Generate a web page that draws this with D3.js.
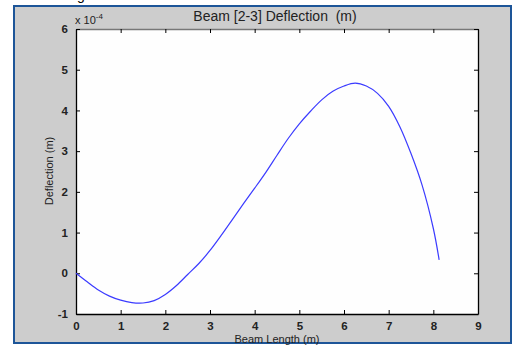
<!DOCTYPE html>
<html><head><meta charset="utf-8">
<script src="https://cdn.jsdelivr.net/npm/d3@7"></script>
<style>html,body{margin:0;padding:0;background:#fff;}svg{display:block;}</style>
</head><body>
<script>
const beamLength = [0, 0.25, 0.5, 0.75, 1.0, 1.25, 1.5, 1.75, 2.0, 2.25, 2.5, 2.75, 3.0, 3.25, 3.5, 3.75, 4.0, 4.25, 4.5, 4.75, 5.0, 5.25, 5.5, 5.75, 6.0, 6.25, 6.5, 6.75, 7.0, 7.25, 7.5, 7.75, 8.0, 8.13];
const deflection = [0, -0.21, -0.41, -0.56, -0.66, -0.72, -0.73, -0.67, -0.52, -0.3, -0.03, 0.24, 0.56, 0.93, 1.32, 1.71, 2.09, 2.48, 2.9, 3.31, 3.67, 3.98, 4.26, 4.47, 4.6, 4.67, 4.6, 4.42, 4.1, 3.6, 2.94, 2.16, 1.1, 0.33];
const xTicks = [0,1,2,3,4,5,6,7,8,9];
const yTicks = [-1,0,1,2,3,4,5,6];
const titleText = "Beam [2-3] Deflection  (m)";
const xLabel = "Beam Length (m)";
const yLabel = "Deflection (m)";

const W = 515, H = 345;
const svg = d3.select("body").append("svg").attr("width", W).attr("height", H);
svg.append("rect").attr("width", W).attr("height", H).attr("fill", "#fff");
// stray glyph from surrounding document (cut off at the top, as in the source)
svg.append("text").attr("x", 77).attr("y", 0).attr("font-family", "Arial, Liberation Sans").attr("font-size", 14).attr("fill", "#000").text("g");
// figure frame
svg.append("rect").attr("x", 14).attr("y", 6).attr("width", 497).attr("height", 337)
  .attr("fill", "#cdcdcd").attr("stroke", "#1d5598").attr("stroke-width", 2);

const m = {l: 76, t: 29, r: 478, b: 314};
const x = d3.scaleLinear().domain([0, 9]).range([m.l, m.r]);
const y = d3.scaleLinear().domain([-1, 6]).range([m.b, m.t]);

svg.append("rect").attr("x", m.l).attr("y", m.t).attr("width", m.r - m.l).attr("height", m.b - m.t).attr("fill", "#fefefe");

const font = "Arial, 'Liberation Sans', sans-serif";
const fmt = d => String(d);
const tl = 4;
const xb = svg.append("g").attr("transform", `translate(0,${m.b})`)
  .call(d3.axisBottom(x).tickValues(xTicks).tickFormat(fmt).tickSizeInner(-tl).tickSizeOuter(0).tickPadding(8));
const xt = svg.append("g").attr("transform", `translate(0,${m.t})`)
  .call(d3.axisTop(x).tickValues(xTicks).tickSizeInner(-tl).tickSizeOuter(0).tickFormat(""));
const yl = svg.append("g").attr("transform", `translate(${m.l},0)`)
  .call(d3.axisLeft(y).tickValues(yTicks).tickFormat(fmt).tickSizeInner(-tl).tickSizeOuter(0).tickPadding(8));
const yr = svg.append("g").attr("transform", `translate(${m.r},0)`)
  .call(d3.axisRight(y).tickValues(yTicks).tickSizeInner(-tl).tickSizeOuter(0).tickFormat(""));
[xb, xt, yl, yr].forEach(g => {
  g.selectAll("path.domain").attr("stroke", "#000").attr("stroke-width", 1.3);
  g.selectAll(".tick line").attr("stroke", "#000");
  g.selectAll("text").attr("font-family", font).attr("font-size", 11.5).attr("font-weight", "bold").attr("fill", "#222");
});
xt.select("path.domain").attr("stroke", "#777");

svg.append("path").datum(beamLength.map((v, i) => [v, deflection[i]]))
  .attr("fill", "none").attr("stroke", "#3b3bff").attr("stroke-width", 1.2)
  .attr("d", d3.line().x(d => x(d[0])).y(d => y(d[1])).curve(d3.curveCatmullRom.alpha(0.5)));

svg.append("text").attr("x", 275).attr("y", 21).attr("text-anchor", "middle").style("white-space", "pre")
  .attr("font-family", font).attr("font-size", 14).attr("fill", "#222").text(titleText);
svg.append("text").attr("x", 277).attr("y", 343).attr("text-anchor", "middle")
  .attr("font-family", font).attr("font-size", 11).attr("fill", "#222").text(xLabel);
svg.append("text").attr("transform", "translate(53,171) rotate(-90)").attr("text-anchor", "middle")
  .attr("font-family", font).attr("font-size", 11).attr("fill", "#222").text(yLabel);
const ex = svg.append("text").attr("x", 75).attr("y", 24).attr("font-family", font).attr("font-size", 11).attr("fill", "#222");
ex.append("tspan").text("x 10");
ex.append("tspan").attr("dy", -5).attr("font-size", 8).text("-4");
</script>
</body></html>
